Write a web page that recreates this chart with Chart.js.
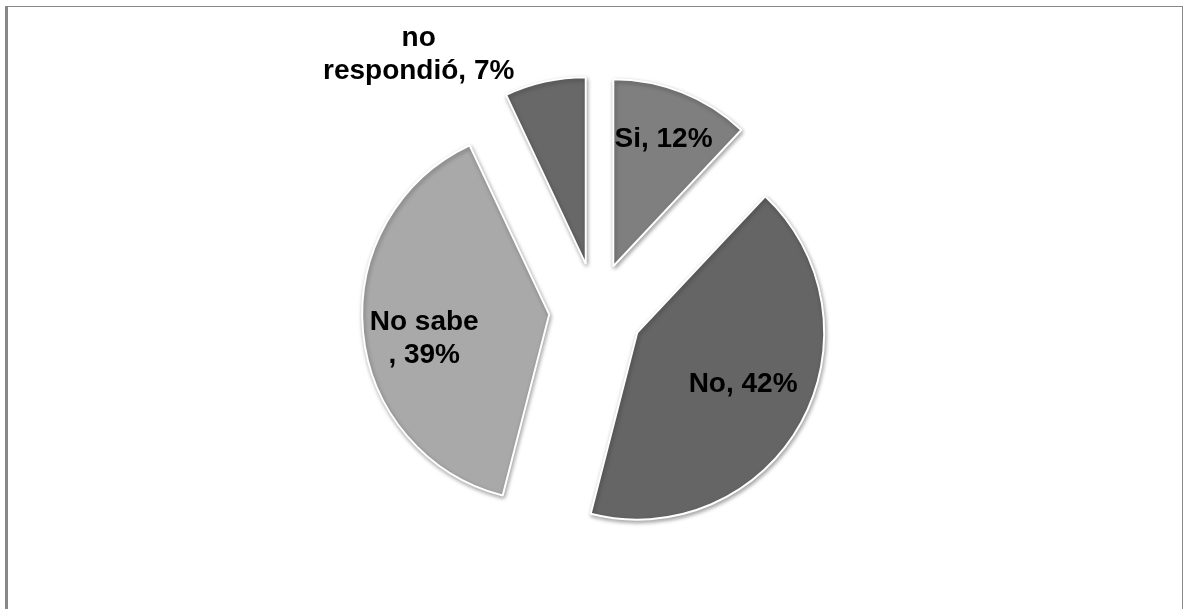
<!DOCTYPE html>
<html>
<head>
<meta charset="utf-8">
<script src="https://cdn.jsdelivr.net/npm/chart.js@4/dist/chart.umd.min.js"></script>
<style>
    body { margin: 0; background: #fff; }
    #wrap { position: relative; width: 1184px; height: 609px; overflow: hidden; }
    #frame {
        position: absolute; left: 5px; top: 6px; width: 1174px; height: 700px;
        border-left: 3px solid #888; border-top: 1px solid #888; border-right: 1px solid #888;
        box-sizing: content-box;
    }
    canvas { position: absolute; left: 0; top: 0; }
</style>
</head>
<body>
<div id="wrap">
    <div id="frame"></div>
    <canvas id="myPieChart" width="1184" height="609"></canvas>
</div>
<script>
// data
const categories = ['Si', 'No', 'No sabe', 'no respondió'];
const values = [12, 42, 39, 7];
const colors = ['#7f7f7f', '#656565', '#a9a9a9', '#686868'];
// where each label text wraps (char index, null = single line)
const breaks = [null, null, 7, 3];

document.addEventListener('DOMContentLoaded', function () {
    const labelLines = categories.map(function (c, i) {
        const txt = c + ', ' + values[i] + '%';
        if (breaks[i] === null) return [txt];
        return [txt.slice(0, breaks[i]).trim(), txt.slice(breaks[i])];
    });

    const shift = 47; // how far each slice is pulled out

    // label placement: distance as share of radius, and angle tweak in degrees
    const labelDist = [0.73, 0.63, 0.68, 1.41];
    const labelTurn = [0, -2, -4, -22.2];

    // draw every arc pulled out by the same distance, with a soft shadow
    const explodePlugin = {
        id: 'explode',
        beforeDatasetDraw(chart, args) {
            const c = chart.ctx;
            const arcs = args.meta.data;
            c.save();
            c.shadowColor = 'rgba(0,0,0,0.35)';
            c.shadowBlur = 4;
            c.shadowOffsetX = 1;
            c.shadowOffsetY = 2;
            arcs.forEach(function (arc) {
                const mid = (arc.startAngle + arc.endAngle) / 2;
                c.save();
                c.translate(Math.cos(mid) * shift, Math.sin(mid) * shift);
                arc.draw(c);
                c.restore();
            });
            c.restore();
            return false;
        }
    };

    const labelPlugin = {
        id: 'sliceLabels',
        afterDraw(chart) {
            const c = chart.ctx;
            const arcs = chart.getDatasetMeta(0).data;
            c.save();
            c.font = 'bold 28px "Liberation Sans", Arial, sans-serif';
            c.fillStyle = '#000';
            c.textAlign = 'center';
            c.textBaseline = 'middle';
            arcs.forEach(function (arc, i) {
                const mid = (arc.startAngle + arc.endAngle) / 2 + labelTurn[i] * Math.PI / 180;
                const d = shift + labelDist[i] * arc.outerRadius;
                const x = arc.x + Math.cos(mid) * d;
                const y = arc.y + Math.sin(mid) * d;
                const lines = labelLines[i];
                const lh = 33;
                lines.forEach(function (ln, j) {
                    c.fillText(ln, x, y + (j - (lines.length - 1) / 2) * lh);
                });
            });
            c.restore();
        }
    };

    var ctx = document.getElementById('myPieChart').getContext('2d');
    var myPieChart = new Chart(ctx, {
        type: 'pie',
        data: {
            labels: categories,
            datasets: [{
                data: values,
                backgroundColor: colors,
                borderColor: '#ffffff',
                borderWidth: 2,
                radius: 187,
                offset: 0
            }]
        },
        options: {
            responsive: false,
            animation: false,
            layout: { padding: { left: 8, right: 0, top: 11, bottom: 0 } },
            plugins: {
                legend: { display: false },
                tooltip: { enabled: false }
            }
        },
        plugins: [explodePlugin, labelPlugin]
    });
});
</script>
</body>
</html>
